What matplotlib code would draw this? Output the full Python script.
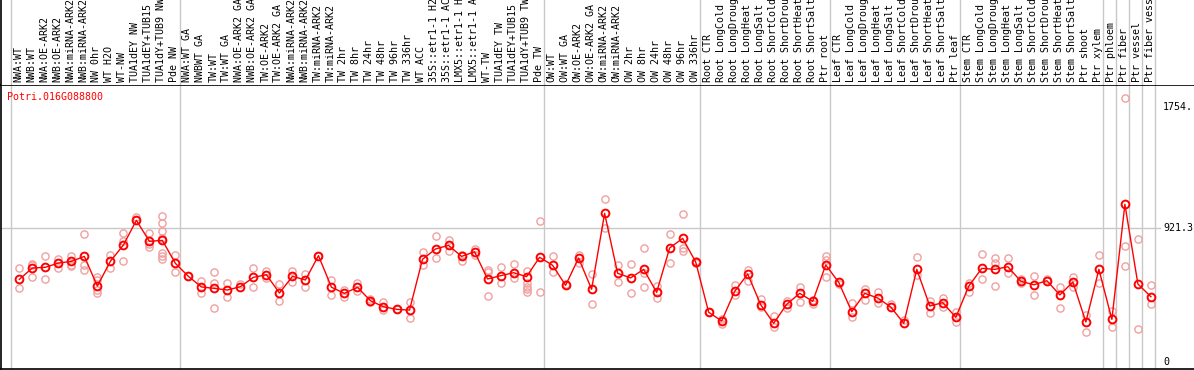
import numpy as np
import matplotlib
matplotlib.use("Agg")
import matplotlib.pyplot as plt

# ── Data ──────────────────────────────────────────────────────────────────────
gene_id = "Potri.016G088800"

sample_labels = [
    "NWA:WT", "NWB:WT", "NWA:OE-ARK2", "NWB:OE-ARK2", "NWA:miRNA-ARK2",
    "NWB:miRNA-ARK2", "NW 0hr", "WT H2O", "WT-NW", "TUA1dEY NW",
    "TUA1dEY+TUB15 NW", "TUA1dY+TUB9 NW", "Pde NW",
    "NWA:WT GA", "NWBWT GA", "TW:WT", "TW:WT GA", "NWA:OE-ARK2 GA",
    "NWB:OE-ARK2 GA", "TW:OE-ARK2", "TW:OE-ARK2 GA", "NWA:miRNA-ARK2",
    "NWB:miRNA-ARK2", "TW:miRNA-ARK2", "TW:miRNA-ARK2", "TW 2hr", "TW 8hr",
    "TW 24hr", "TW 48hr", "TW 96hr", "TW 336hr", "WT ACC",
    "35S::etr1-1 H2O", "35S::etr1-1 ACC", "LMX5::etr1-1 H2O",
    "LMX5::etr1-1 ACC", "WT-TW", "TUA1dEY TW", "TUA1dEY+TUB15 TW",
    "TUA1dY+TUB9 TW", "Pde TW",
    "OW:WT", "OW:WT GA", "OW:OE-ARK2", "OW:OE-ARK2 GA", "OW:miRNA-ARK2",
    "OW:miRNA-ARK2", "OW 2hr", "OW 8hr", "OW 24hr", "OW 48hr", "OW 96hr",
    "OW 336hr",
    "Root CTR", "Root LongCold", "Root LongDrought", "Root LongHeat",
    "Root LongSalt", "Root ShortCold", "Root ShortDrought", "Root ShortHeat",
    "Root ShortSalt", "Ptr root",
    "Leaf CTR", "Leaf LongCold", "Leaf LongDrought", "Leaf LongHeat",
    "Leaf LongSalt", "Leaf ShortCold", "Leaf ShortDrought", "Leaf ShortHeat",
    "Leaf ShortSalt", "Ptr leaf",
    "Stem CTR", "Stem LongCold", "Stem LongDrought", "Stem LongHeat",
    "Stem LongSalt", "Stem ShortCold", "Stem ShortDrought", "Stem ShortHeat",
    "Stem ShortSalt", "Ptr shoot", "Ptr xylem",
    "Ptr phloem", "Ptr fiber", "Ptr vessel", "Ptr fiber vessel",
]

# first sample index of each group (plus end)
group_starts = [0, 13, 41, 53, 63, 73, 84, 85, 86, 87, 88]

mean_expr = [
    568, 646, 651, 680, 692, 726, 522, 692, 804, 974, 830, 836, 678,
    589, 516, 506, 495, 518, 582, 600, 474, 589, 564, 731, 514, 472, 514,
    421, 380, 362, 357, 706, 777, 802, 726, 758, 571, 593, 614, 587, 720,
    665, 527, 715, 500, 1022, 610, 578, 637, 479, 784, 850, 688,
    342, 282, 486, 605, 394, 266, 397, 472, 417, 667,
    548, 346, 472, 440, 378, 266, 637, 385, 408, 307,
    522, 644, 637, 655, 555, 531, 559, 461, 550, 275, 637,
    293, 1084, 536, 449,
]

replicates = [
    [644, 506], [674, 667, 587], [726, 568], [710, 644], [729, 667, 662],
    [878, 667, 632], [584, 564, 495, 476], [738, 646], [885, 832, 694],
    [999, 976], [887, 809, 793], [1004, 953, 898, 850, 751, 729, 706],
    [736, 621],
    [589], [559, 472], [617, 541, 369], [541, 445], [536], [644, 518],
    [628, 575], [534, 417], [628, 552], [603, 518], [731], [564, 459],
    [495, 449], [545, 488], [435, 410], [410, 357], [362], [410, 300],
    [756, 665], [866, 713], [836, 765], [736, 694], [775, 736],
    [632, 621, 456], [651, 545], [674, 578], [624, 545, 518, 500, 481],
    [967, 479],
    [726, 621], [536], [738, 683], [605, 397], [1121, 923], [667, 552],
    [674, 472], [782, 610, 518], [522, 438], [880, 678], [1015, 782, 765],
    [694, 678],
    [342], [296, 261], [529, 461], [632, 555], [431, 378], [316, 243],
    [421, 369], [518, 412], [426, 399], [726, 701, 582],
    [534], [403, 307], [502, 426], [481, 403], [397], [289], [720, 598],
    [421, 339], [438, 380], [346, 277],
    [541, 483], [743, 568], [713, 678, 522], [713, 614], [571, 541],
    [591, 461], [568], [514, 369], [587, 514], [323, 208], [733, 541],
    [353, 243], [1813, 797, 660], [843, 225], [529, 399],
]

axis_ticks = [0, 921.3, 1754.0]
axis_tick_labels = ["0", "921.3", "1754."]

# ── Layout (pixel geometry of the reference) ──────────────────────────────────
W, H = 1194, 370
px_x0, px_dx = 19.3, 13.007          # x pixel of sample 0 and column width
px_y0, px_per_unit = 362.0, 134.0 / 921.3
top_px, bot_px = 85, 369

xmin = (1 - px_x0) / px_dx
xmax = (W - px_x0) / px_dx
ymax = (px_y0 - top_px) / px_per_unit
ymin = (px_y0 - bot_px) / px_per_unit

mono = "DejaVu Sans Mono"
fs = 7.2
grid_c = "#c8c8c8"
rep_c = "#f0a0a0"

fig = plt.figure(figsize=(W / 100, H / 100), dpi=100)

ax = fig.add_axes([1 / W, (H - bot_px) / H, (W - 1) / W, (bot_px - top_px) / H])
ax_lab = fig.add_axes([1 / W, (H - top_px) / H, (W - 1) / W, top_px / H], sharex=ax)

x = np.arange(len(mean_expr))
ax.set_xlim(xmin, xmax)
ax.set_ylim(ymin, ymax)

# group separators
for g in group_starts:
    ax.axvline(g - 0.66, color=grid_c, lw=1, zorder=0)
    ax_lab.axvline(g - 0.66, color=grid_c, lw=1, zorder=0)
ax.plot([xmin, (1160 - px_x0) / px_dx], [921.3, 921.3], color=grid_c, lw=1, zorder=0)

# replicates
for i, reps in enumerate(replicates):
    ax.plot([i] * len(reps), reps, "o", ms=5.2, mfc="none", mec=rep_c, mew=1.0, zorder=2)

# means
ax.plot(x, mean_expr, "-", color="red", lw=1, zorder=3)
ax.plot(x, mean_expr, "o", ms=5.6, mfc="none", mec="red", mew=1.4, zorder=4)

for v, t in zip(axis_ticks, axis_tick_labels):
    ax.text((1163 - px_x0) / px_dx, v, t, ha="left", va="center",
            family=mono, fontsize=fs, color="black")

ax.text((7 - px_x0) / px_dx, (px_y0 - 97) / px_per_unit, gene_id, ha="left", va="center",
        family=mono, fontsize=fs, color="red")

ax.set_xticks([])
ax.set_yticks([])
for s in ["top", "bottom", "left"]:
    ax.spines[s].set_linewidth(1.2)
ax.spines["right"].set_visible(False)

# sample labels band
ax_lab.set_ylim(0, top_px)
for i, lab in enumerate(sample_labels):
    ax_lab.text(i - 0.08, 3, lab, rotation=90, ha="center", va="bottom",
                family=mono, fontsize=fs, color="black", clip_on=False)
ax_lab.set_yticks([])
ax_lab.tick_params(axis="x", bottom=False, labelbottom=False)
for s in ["top", "right", "bottom"]:
    ax_lab.spines[s].set_visible(False)
ax_lab.spines["left"].set_linewidth(1.2)

fig.savefig("out.png", dpi=100)
